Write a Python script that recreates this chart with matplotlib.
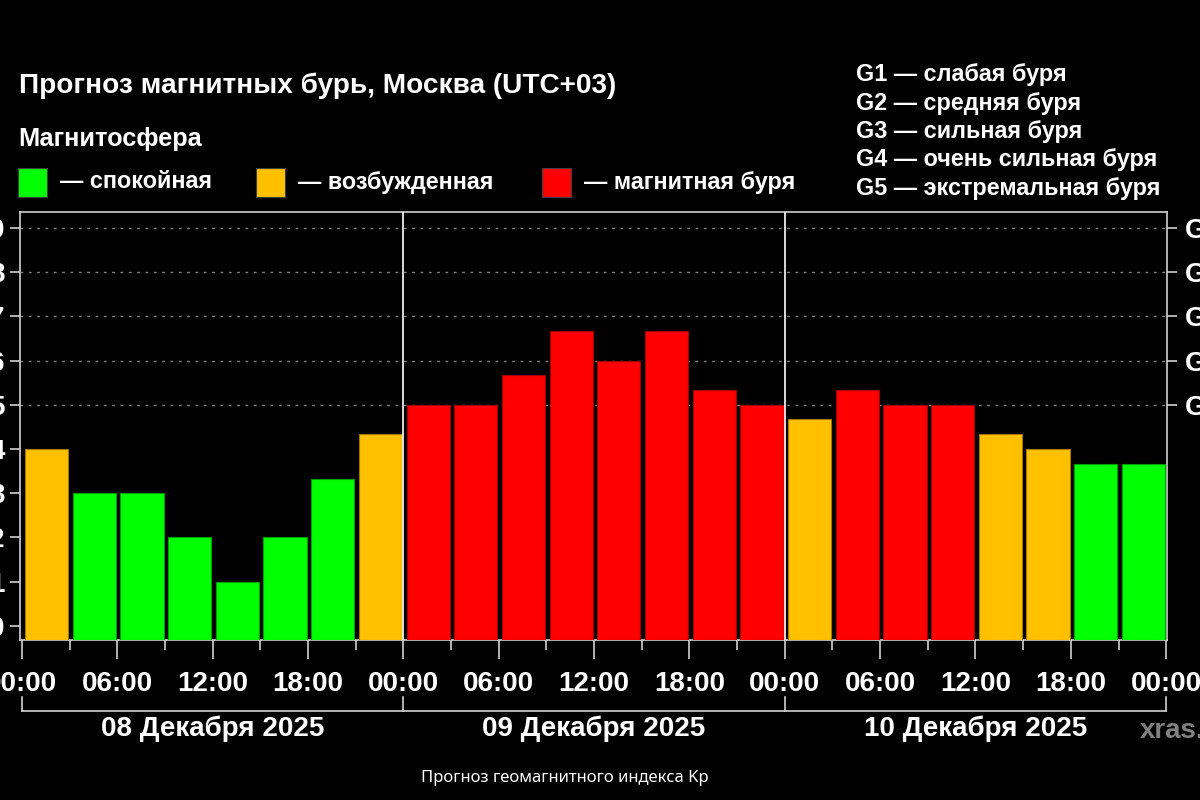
import matplotlib
matplotlib.use("Agg")
import matplotlib.pyplot as plt
import matplotlib.transforms as mtransforms
import numpy as np

# ---------------- данные ----------------
kp_values = [4.0, 3.0, 3.0, 2.0, 1.0, 2.0, 3.33, 4.33,
             5.0, 5.0, 5.67, 6.67, 6.0, 6.67, 5.33, 5.0,
             4.67, 5.33, 5.0, 5.0, 4.33, 4.0, 3.67, 3.67]
day_labels = ["08 Декабря 2025", "09 Декабря 2025", "10 Декабря 2025"]
hour_labels = ["00:00", "06:00", "12:00", "18:00"]
g_levels = [5, 6, 7, 8, 9]
g_labels = ["G1", "G2", "G3", "G4", "G5"]
g_descr = ["G1 — слабая буря", "G2 — средняя буря", "G3 — сильная буря",
           "G4 — очень сильная буря", "G5 — экстремальная буря"]
legend_labels = ["— спокойная", "— возбужденная", "— магнитная буря"]

GREEN, ORANGE, RED = "#00ff00", "#ffc000", "#ff0000"


def cor(v):
    if v < 4:
        return GREEN
    if v < 5:
        return ORANGE
    return RED


def borda(v):
    if v < 4:
        return "#00a000"
    if v < 5:
        return "#a07800"
    return "#a00000"


plt.rcParams["font.family"] = ["Liberation Sans", "DejaVu Sans"]

fig = plt.figure(figsize=(12, 8), dpi=100, facecolor="black")
ax = fig.add_axes([20 / 1200, 1 - 640 / 800, 1147 / 1200, 428 / 800])
ax.set_facecolor("black")

Y0 = -0.32
x = np.arange(len(kp_values)) * 3 + 0.2
vals = np.array(kp_values)
ax.bar(x, vals - Y0, bottom=Y0, width=2.72, align="edge",
       color=[cor(v) for v in vals], edgecolor=[borda(v) for v in vals],
       linewidth=0.8, zorder=3)

ax.set_xlim(-0.12, 72.05)
ax.set_ylim(Y0, 9.36)

# linhas pontilhadas
for g in g_levels:
    ax.axhline(g, color="#808080", linestyle=(0, (2, 4)), linewidth=1, zorder=1)

# separadores dos dias
for d in (24, 48):
    ax.axvline(d, color="white", linewidth=1.2, zorder=4)

for s in ax.spines.values():
    s.set_color("#d0d0d0")
    s.set_linewidth(1.2)

# eixos
ax.set_yticks(range(10))
ax.set_yticklabels([str(i) for i in range(10)], fontsize=20, fontweight="bold", color="white")
ax.tick_params(axis="y", left=True, right=True, length=7, width=1.2, color="#d0d0d0", pad=4)

ax2 = ax.twinx()
ax2.set_ylim(ax.get_ylim())
ax2.set_yticks(g_levels)
ax2.set_yticklabels(g_labels, fontsize=20, fontweight="bold", color="white")
ax2.tick_params(axis="y", length=7, width=1.2, color="#d0d0d0", pad=6)
for s in ax2.spines.values():
    s.set_visible(False)

ax.set_xticks(np.arange(0, 73, 6))
ax.set_xticklabels(hour_labels * 3 + ["00:00"], fontsize=20, fontweight="bold", color="white")
ax.set_xticks(np.arange(3, 72, 6), minor=True)
ax.tick_params(axis="x", which="major", length=14, width=1.2, color="#d0d0d0", pad=8)
ax.tick_params(axis="x", which="minor", length=7, width=1.2, color="#d0d0d0")

# colchete das datas
tr = mtransforms.blended_transform_factory(ax.transData, fig.transFigure)
y_linha = 1 - 711 / 800
y_topo = 1 - 697 / 800
ax.plot([0, 72], [y_linha, y_linha], color="#d0d0d0", linewidth=1.2, transform=tr, clip_on=False)
for d in (0, 24, 48, 72):
    ax.plot([d, d], [y_linha, y_topo], color="#d0d0d0", linewidth=1.2, transform=tr, clip_on=False)
for i, lab in enumerate(day_labels):
    ax.text(12 + 24 * i, 1 - 729 / 800, lab, transform=tr, ha="center", va="center",
            fontsize=20, fontweight="bold", color="white")

fig.text(1140 / 1200, 1 - 731 / 800, "xras.ru", fontsize=20, fontweight="bold",
         color="#808080", ha="left", va="center")

# títulos
fig.text(19 / 1200, 1 - 93 / 800, "Прогноз магнитных бурь, Москва (UTC+03)",
         fontsize=20.2, fontweight="bold", color="white", ha="left", va="baseline")
fig.text(18 / 1200, 1 - 146 / 800, "Магнитосфера",
         fontsize=18.3, fontweight="bold", color="white", ha="left", va="baseline")

# legenda das cores
pos_quad = [18, 256, 542]
for px, c, lab in zip(pos_quad, [GREEN, ORANGE, RED], legend_labels):
    fig.patches.append(plt.Rectangle((px / 1200, 1 - 197 / 800), 29 / 1200, 29 / 800,
                                     transform=fig.transFigure, facecolor=c,
                                     edgecolor="#404040", linewidth=0.8))
    fig.text((px + 42) / 1200, 1 - 182 / 800, lab,
             fontsize=16.8, fontweight="bold", color="white", ha="left", va="center")

# legenda G
for i, t in enumerate(g_descr):
    fig.text(856 / 1200, 1 - (75 + 28.3 * i) / 800, t, fontsize=16.8, fontweight="bold",
             color="white", ha="left", va="center")

fig.text(565 / 1200, 1 - 778 / 800, "Прогноз геомагнитного индекса Kp",
         family=["Noto Sans", "DejaVu Sans"], fontsize=12, color="white",
         ha="center", va="center")

fig.savefig("out.png", dpi=100, facecolor="black")
